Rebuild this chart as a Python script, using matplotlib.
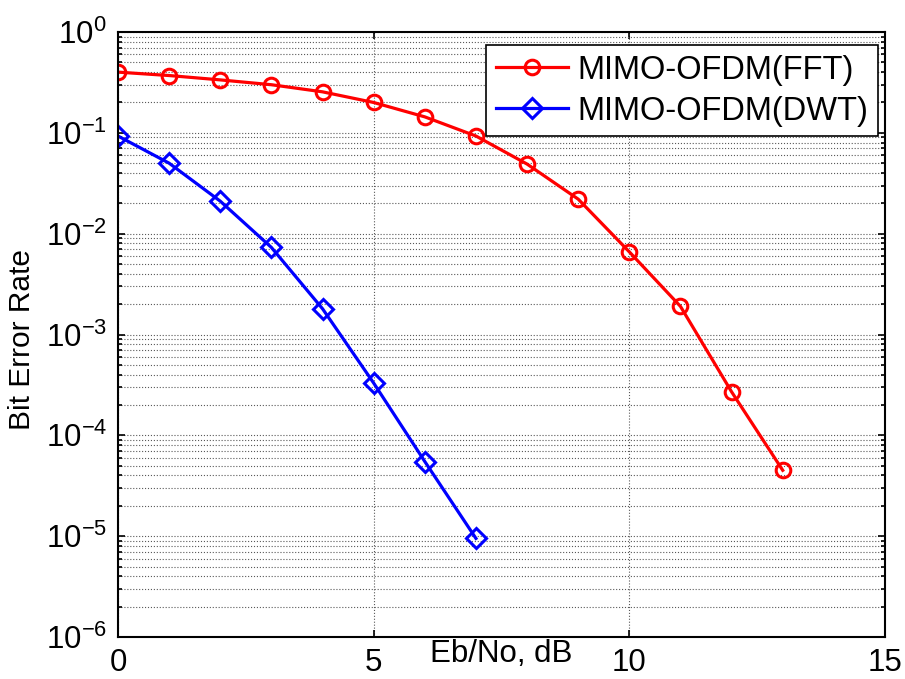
"""BER curves for MIMO-OFDM (FFT vs DWT)."""

import math

import matplotlib
matplotlib.use("Agg")
import matplotlib.pyplot as plt
from matplotlib.ticker import LogLocator, FixedLocator, NullFormatter

plt.rcParams["font.family"] = ["Liberation Sans", "DejaVu Sans"]
plt.rcParams["mathtext.fontset"] = "custom"
plt.rcParams["mathtext.rm"] = "Liberation Sans"
plt.rcParams["mathtext.it"] = "Liberation Sans"

ebno_fft = [0, 1, 2, 3, 4, 5, 6, 7, 8, 9, 10, 11, 12, 13]
ber_fft = [0.40, 0.37, 0.335, 0.30, 0.255, 0.20, 0.144, 0.093, 0.049,
           0.022, 0.0066, 0.0019, 2.7e-4, 4.5e-5]

ebno_dwt = [0, 1, 2, 3, 4, 5, 6, 7]
ber_dwt = [0.093, 0.050, 0.021, 0.0073, 0.0018, 3.3e-4, 5.5e-5, 9.5e-6]

x_ticks = [0, 5, 10, 15]
y_decades = [1e-6, 1e-5, 1e-4, 1e-3, 1e-2, 1e-1, 1e0]

fig = plt.figure(figsize=(9.05, 6.79), dpi=100)
ax = fig.add_axes([118 / 905, 1 - 637 / 679, 767 / 905, 605 / 679])

ax.semilogy(ebno_fft, ber_fft, "-o", color="red", lw=2.3, ms=10.5,
            mew=2.2, mfc="none", label="MIMO-OFDM(FFT)")
ax.semilogy(ebno_dwt, ber_dwt, "-D", color="blue", lw=2.3, ms=10,
            mew=2.2, mfc="none", label="MIMO-OFDM(DWT)")

ax.set_xlim(0, 15)
ax.set_ylim(1e-6, 1)
ax.xaxis.set_major_locator(FixedLocator(x_ticks))
ax.yaxis.set_major_locator(FixedLocator(y_decades))
ax.yaxis.set_minor_locator(LogLocator(base=10, subs=range(2, 10), numticks=20))
ax.yaxis.set_minor_formatter(NullFormatter())
ax.set_yticklabels([f"$10^{{{int(round(math.log10(v)))}}}$" for v in y_decades])

ax.tick_params(which="both", direction="in", top=True, right=True,
               labelsize=22.5, width=1.2)
ax.tick_params(which="major", length=5)
ax.tick_params(axis="x", which="major", pad=8)
ax.tick_params(axis="y", which="major", pad=8)
ax.tick_params(which="minor", length=3)

ax.grid(True, which="major", axis="both", linestyle=":", color="0.35", lw=0.8)
ax.grid(True, which="minor", axis="y", linestyle=":", color="0.35", lw=0.8)

for s in ax.spines.values():
    s.set_linewidth(1.5)

ax.set_xlabel("Eb/No, dB", fontsize=22.5)
ax.xaxis.set_label_coords(0.5, -0.004)
ax.set_ylabel("Bit Error Rate", fontsize=21.5)
ax.yaxis.set_label_coords(-0.107, 0.492)

leg = ax.legend(loc="upper right", bbox_to_anchor=(760 / 767, 1 - 13 / 605),
                fontsize=23.5, fancybox=False, framealpha=1, edgecolor="black",
                handlelength=2.2, borderaxespad=0, handletextpad=0.3,
                labelspacing=0.3, borderpad=0.3)
leg.get_frame().set_linewidth(1.2)

fig.savefig("out.png", dpi=100)
plt.close(fig)
